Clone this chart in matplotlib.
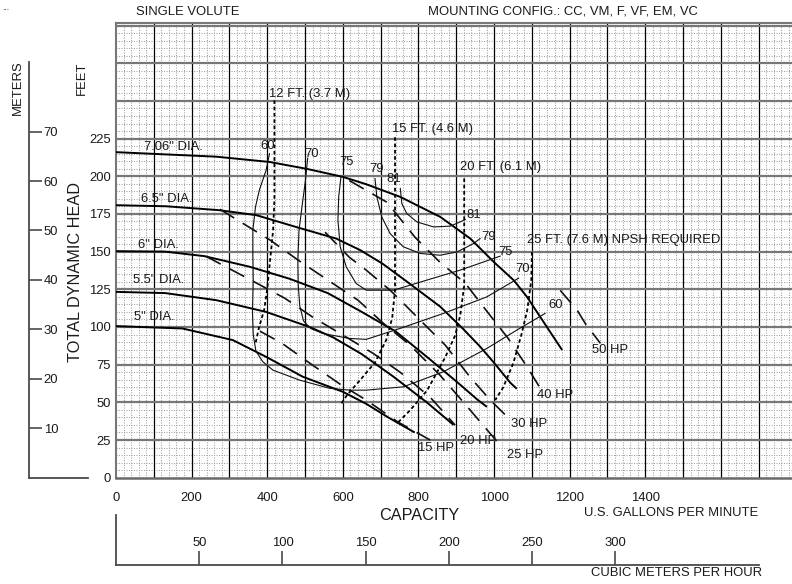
import matplotlib
matplotlib.use("Agg")
import matplotlib.pyplot as plt
from matplotlib.ticker import FuncFormatter

plt.rcParams['font.family'] = ['Liberation Sans', 'DejaVu Sans']

# ---- head / capacity curves (GPM, ft) ----
dia_labels = ['7.06" DIA.', '6.5" DIA.', '6" DIA.', '5.5" DIA.', '5" DIA.']
dia_label_pos = [(75, 219.5), (66, 184.8), (57, 154.7), (44, 131.5), (48, 106.7)]

q_706 = [0, 265, 406, 503, 600, 662, 752, 858, 937, 999, 1052, 1087, 1122, 1180]
h_706 = [216, 213, 209.5, 205, 199.6, 194.7, 186.3, 173, 158.7, 143.2, 131, 120, 106.7, 84.7]
q_65 = [0, 132, 273, 371, 481, 582, 646, 705, 770, 858, 919, 963, 999, 1043, 1060]
h_65 = [180.8, 180.1, 177.5, 174.2, 166, 158.7, 151, 142, 130, 113.4, 98.5, 87, 76.5, 63, 59]
q_6 = [0, 130, 234, 353, 459, 560, 650, 740, 828, 902, 955, 981]
h_6 = [150.3, 150, 147, 140, 132, 122.5, 110, 97, 79, 63.5, 52, 47]
q_55 = [0, 130, 265, 397, 512, 575, 650, 734, 822, 893]
h_55 = [123.3, 122.5, 117.8, 110, 100, 93, 82, 67, 50, 35]
q_5 = [0, 176, 309, 397, 494, 600, 662, 720, 790]
h_5 = [100.6, 99, 91.3, 80.2, 67, 57, 49, 40, 30]

# ---- efficiency contours ----
eff_60_q = [406, 397, 379, 369, 362, 362, 363, 361, 363, 370, 388, 415, 485, 565, 618, 662, 760, 866, 981, 1060, 1135]
eff_60_h = [215, 204, 190.7, 179.7, 164.2, 148.8, 131, 110, 95, 84, 77, 71.4, 64.8, 59.3, 58.1, 58.1, 60.3, 70.3, 85.8, 97.9, 109]
eff_70_q = [507, 501, 492, 484, 481, 482, 486, 496, 515, 547, 617, 662, 752, 866, 981, 1065]
eff_70_h = [212, 197, 180, 164, 144, 128, 114, 104, 99, 95.7, 92.4, 91.8, 99.1, 109, 120, 132.4]
eff_75_q = [595, 589, 587, 593, 609, 635, 662, 734, 822, 910, 999, 1016]
eff_75_h = [199.6, 186.3, 170.9, 153.2, 139.9, 128.9, 124.4, 124.4, 131.1, 137.7, 145.5, 147]
eff_79_q = [685, 690, 703, 725, 760, 805, 857, 902, 946, 963]
eff_79_h = [198.5, 186.3, 173, 162, 153.2, 148.8, 147.6, 149.8, 155.4, 158.7]
eff_81_q = [752, 756, 769, 796, 840, 884, 910, 924]
eff_81_h = [191.9, 181.9, 175.3, 169.7, 166.4, 166.9, 169.7, 171.3]
eff_labels = ['60', '70', '75', '79', '81', '81', '79', '75', '70', '60']
eff_label_pos = [(402, 219.9), (516, 215), (609, 209.5), (689, 204.5), (734, 198.5),
                 (945, 174.2), (985, 159.8), (1030, 149.8), (1074, 138.8), (1162, 114.5)]

# ---- NPSH required ----
npsh_12_q = [419, 419, 415.5, 407.6, 399.6, 391.7, 378.5, 368]
npsh_12_h = [250.4, 184, 164.1, 144.3, 124.4, 111.2, 99.9, 88]
npsh_15_q = [738, 738, 730.5, 714.6, 685.5, 645.8, 611.4, 593]
npsh_15_h = [225.9, 124.4, 105.9, 91.3, 76.6, 64.8, 54.9, 48.1]
npsh_20_q = [921, 921, 910.5, 897.2, 870.8, 823.1, 778.1, 743.7]
npsh_20_h = [198.6, 127.6, 107.7, 94.5, 79.9, 58, 44.8, 36.1]
npsh_25_q = [1100, 1098.4, 1087.8, 1071.9, 1050.7, 1024.3, 1003]
npsh_25_h = [149.8, 131.1, 111.2, 94.5, 75.9, 60, 51.5]
npsh_labels = ['12 FT. (3.7 M)', '15 FT. (4.6 M)', '20 FT. (6.1 M)', '25 FT. (7.6 M) NPSH REQUIRED']
npsh_label_pos = [(406, 254.9), (730, 231.6), (910, 206.2), (1087, 157.6)]

# ---- brake horsepower ----
hp_15_q = [381, 439, 513, 593, 662, 746, 831]
hp_15_h = [97.2, 89.2, 75.9, 62, 51.5, 36.9, 25]
hp_20_q = [238, 363, 447, 521, 601, 680, 752, 831, 897]
hp_20_h = [146.9, 130.3, 119, 106.4, 94.5, 82.5, 69.9, 53.4, 34.9]
hp_25_q = [275, 408, 482, 561, 640, 707, 778, 857, 937, 1016]
hp_25_h = [178.1, 157.6, 144.3, 131, 117.8, 102.5, 87.9, 68, 44.8, 21.6]
hp_30_q = [553, 617, 662, 725, 765, 831, 871, 937, 990, 1030]
hp_30_h = [162.9, 146.3, 137.7, 124.4, 114.5, 97.9, 87.9, 66.6, 51.5, 41.6]
hp_40_q = [617, 717, 791, 857, 924, 985, 1035, 1088, 1122]
hp_40_h = [197.2, 182.7, 159.5, 142.9, 129, 109.1, 93.2, 73.3, 59.4]
hp_50_q = [1175, 1220, 1241, 1281]
hp_50_h = [124.3, 111.1, 102.4, 89.2]
hp_labels = ['15 HP', '20 HP', '25 HP', '30 HP', '40 HP', '50 HP']
hp_label_pos = [(799, 19.7), (910, 24.5), (1034, 15), (1045, 35.4), (1113, 54.8), (1260, 84.7)]

gpm_ticks = [0, 200, 400, 600, 800, 1000, 1200, 1400]
ft_ticks = [0, 25, 50, 75, 100, 125, 150, 175, 200, 225]
m_ticks = [10, 20, 30, 40, 50, 60, 70]
m3h_ticks = [50, 100, 150, 200, 250, 300]

# chart paper rulings
gpm_major = list(range(100, 1800, 100))
gpm_minor = [v for v in range(0, 1800, 20) if v % 100]
ft_major = list(range(25, 301, 25))
ft_minor = [v for v in range(0, 301, 5) if v % 25]

W, H = 792, 584
GREY = '#4a4a4a'
TXT = '#1a1a1a'
FS = 9.4
FSB = 11.7
XMAX, YMAX = 1788, 301.5


def box(x0, y0, x1, y1):
    return [x0 / W, 1 - y1 / H, (x1 - x0) / W, (y1 - y0) / H]


fig = plt.figure(figsize=(W / 100, H / 100), dpi=100)

ax = fig.add_axes(box(116, 23.3, 792, 477.7))
ax.set_xlim(0, XMAX)
ax.set_ylim(0, YMAX)
ax.set_axisbelow(True)
ax.set_xticks(gpm_ticks)
ax.set_xticks(gpm_minor, minor=True)
ax.set_yticks(ft_ticks)
ax.set_yticks(ft_minor, minor=True)
ax.grid(which='minor', color='#a3a3a3', lw=0.75, ls=(0, (1, 1.4)))
# major rulings drawn over the dotted ones
ax.vlines(gpm_major, 0, YMAX, color='black', lw=0.9, zorder=1)
ax.hlines(ft_major, 0, XMAX, color='#777777', lw=1.6, zorder=1)
ax.tick_params(which='both', length=0, labelsize=FS, labelcolor=TXT)
ax.tick_params(axis='x', pad=10)
ax.tick_params(axis='y', pad=3.5)
for s in ['left', 'top']:
    ax.spines[s].set_color('#777777')
    ax.spines[s].set_linewidth(1.5)
ax.spines['bottom'].set_color('#6a6a6a')
ax.spines['bottom'].set_linewidth(1.8)
ax.spines['right'].set_visible(False)

# impeller curves
for q, h in [(q_706, h_706), (q_65, h_65), (q_6, h_6), (q_55, h_55), (q_5, h_5)]:
    ax.plot(q, h, color='black', lw=1.4, solid_capstyle='butt', solid_joinstyle='round', zorder=3)
for t, (x, y) in zip(dia_labels, dia_label_pos):
    ax.text(x, y, t, fontsize=FS, color=TXT, ha='left', va='center')

# efficiency
for q, h in [(eff_60_q, eff_60_h), (eff_70_q, eff_70_h), (eff_75_q, eff_75_h),
             (eff_79_q, eff_79_h), (eff_81_q, eff_81_h)]:
    ax.plot(q, h, color='#111111', lw=0.8, zorder=3)
for t, (x, y) in zip(eff_labels, eff_label_pos):
    ax.text(x, y, t, fontsize=FS, color=TXT, ha='center', va='center')

# NPSH
for q, h in [(npsh_12_q, npsh_12_h), (npsh_15_q, npsh_15_h), (npsh_20_q, npsh_20_h), (npsh_25_q, npsh_25_h)]:
    ax.plot(q, h, color='black', lw=1.3, ls=(0, (2, 1.5)), zorder=3)
for t, (x, y) in zip(npsh_labels, npsh_label_pos):
    ax.text(x, y, t, fontsize=FS, color=TXT, ha='left', va='center')

# horsepower
for q, h in [(hp_15_q, hp_15_h), (hp_20_q, hp_20_h), (hp_25_q, hp_25_h),
             (hp_30_q, hp_30_h), (hp_40_q, hp_40_h), (hp_50_q, hp_50_h)]:
    ax.plot(q, h, color='#111111', lw=1.2, ls=(0, (10, 6)), zorder=3)
for t, (x, y) in zip(hp_labels, hp_label_pos):
    ax.text(x, y, t, fontsize=FS, color=TXT, ha='left', va='center')

# metres scale
m_top = YMAX * (477.7 - 62) / (477.7 - 23.3) / 3.28084
axm = fig.add_axes(box(29, 62, 88, 477.7))
axm.set_ylim(0, m_top)
axm.patch.set_alpha(0)
axm.spines['left'].set_visible(False)
axm.spines['top'].set_visible(False)
axm.spines['right'].set_position(('axes', 0))
for s in ['right', 'bottom']:
    axm.spines[s].set_color(GREY)
    axm.spines[s].set_linewidth(1.3)
axm.yaxis.set_ticks_position('right')
axm.set_yticks(m_ticks)
axm.set_xticks([])
axm.tick_params(axis='y', direction='out', length=9, width=1.2, color=GREY,
                labelsize=FS, labelcolor=TXT, pad=1.5)

# cubic metres per hour scale
axc = fig.add_axes(box(116, 515, 758.7, 565))
axc.set_xlim(0, 1700 * 0.227125)
axc.patch.set_alpha(0)
axc.spines['right'].set_visible(False)
axc.spines['bottom'].set_visible(False)
axc.spines['top'].set_position(('axes', 0))
for s in ['left', 'top']:
    axc.spines[s].set_color(GREY)
    axc.spines[s].set_linewidth(1.3)
axc.xaxis.set_ticks_position('top')
axc.set_xticks(m3h_ticks)
axc.set_yticks([])
axc.tick_params(axis='x', direction='out', length=10, width=1.2, color=GREY,
                labelsize=FS, labelcolor=TXT, pad=1.5)

# texts
def ftext(x, y, s, **kw):
    fig.text(x / W, 1 - y / H, s, color=TXT, ha='center', va='center', **kw)

ftext(188, 12, 'SINGLE VOLUTE', fontsize=FS)
ftext(562.5, 12, 'MOUNTING CONFIG.: CC, VM, F, VF, EM, VC', fontsize=FS)
ftext(18, 88, 'METERS', fontsize=FS, rotation=90)
ftext(81.5, 78, 'FEET', fontsize=FS, rotation=90)
ftext(76, 272, 'TOTAL DYNAMIC HEAD', fontsize=FSB, rotation=90)
ftext(419, 515, 'CAPACITY', fontsize=FSB)
ftext(671.5, 513.3, 'U.S. GALLONS PER MINUTE', fontsize=FS)
ftext(676.5, 572.7, 'CUBIC METERS PER HOUR', fontsize=FS)
ftext(6, 8, '...', fontsize=6)

fig.savefig('out.png', dpi=100)
